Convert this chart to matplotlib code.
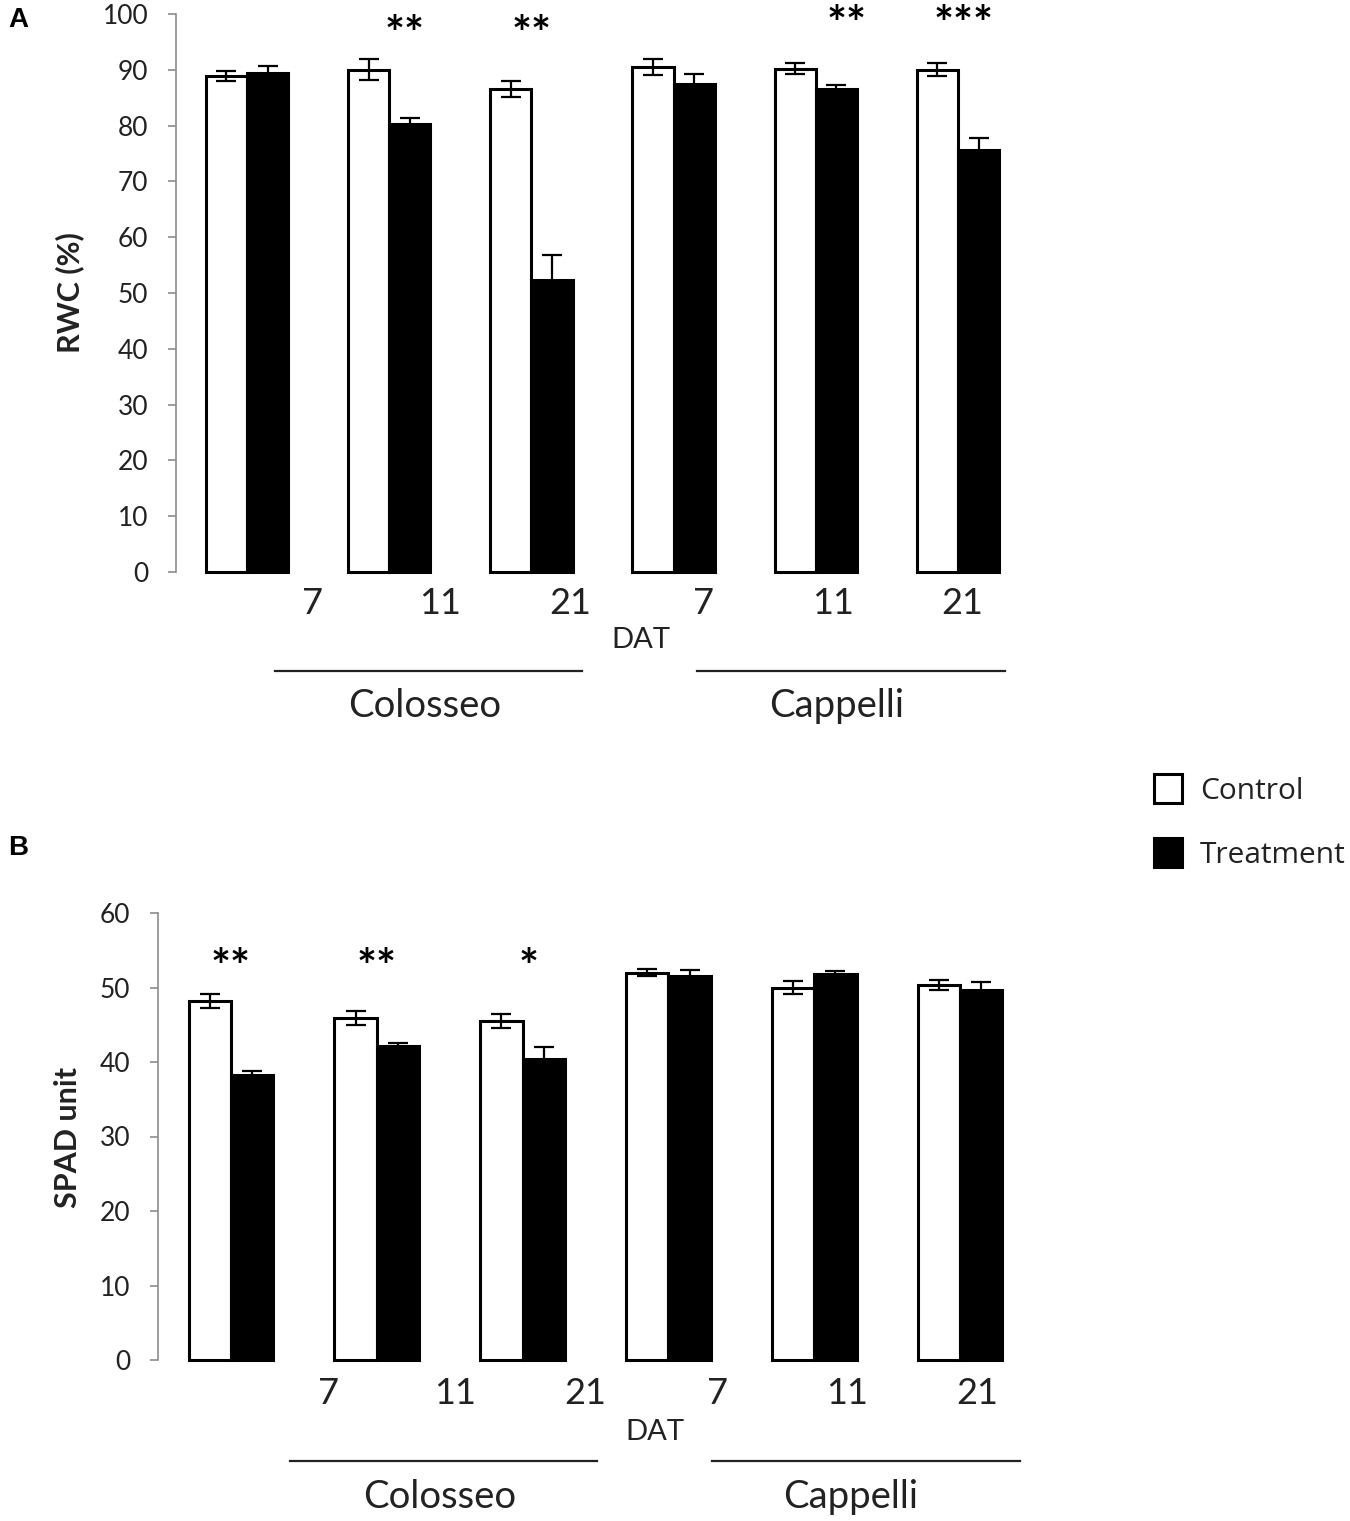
import matplotlib
matplotlib.use("Agg")
import matplotlib.pyplot as plt
import numpy as np
from matplotlib.patches import Patch
from matplotlib.lines import Line2D

# data
groups = ["Colosseo 7", "Colosseo 11", "Colosseo 21", "Cappelli 7", "Cappelli 11", "Cappelli 21"]
day_labels = ["7", "11", "21", "7", "11", "21"]
cultivars = ["Colosseo", "Cappelli"]

rwc_control = [88.9, 90.0, 86.6, 90.5, 90.2, 90.0]
rwc_control_err = [0.9, 1.9, 1.4, 1.4, 1.0, 1.2]
rwc_treat = [89.5, 80.3, 52.4, 87.4, 86.6, 75.6]
rwc_treat_err = [1.1, 1.1, 4.4, 1.9, 0.6, 2.2]
rwc_sig = ["", "**", "**", "", "**", "***"]

spad_control = [48.2, 45.9, 45.5, 52.0, 50.0, 50.3]
spad_control_err = [0.9, 0.95, 1.0, 0.5, 0.9, 0.7]
spad_treat = [38.2, 42.1, 40.4, 51.6, 51.8, 49.7]
spad_treat_err = [0.6, 0.45, 1.65, 0.8, 0.4, 1.1]
spad_sig = ["**", "**", "*", "", "", ""]

W, H = 1350, 1521
fig = plt.figure(figsize=(W / 100, H / 100), dpi=100)


def fx(px):
    return px / W


def fy(py):
    return 1 - py / H


FONT = "Lato"
TICKCOL = "#222222"


def panel(rect, control, cerr, treat, terr, ymax, sig, sig_y, sig_dx):
    ax = fig.add_axes(rect)
    x = np.arange(len(control))
    w = 0.29
    ax.bar(x - w / 2, control, w, color="white", edgecolor="black", linewidth=2.2, clip_on=False, zorder=2)
    ax.bar(x + w / 2, treat, w, color="black", edgecolor="black", linewidth=2.2, clip_on=False, zorder=2)
    ax.errorbar(x - w / 2, control, yerr=cerr, fmt="none", ecolor="black",
                elinewidth=1.6, capsize=7, capthick=1.6, zorder=3)
    ax.errorbar(x + w / 2, treat, yerr=terr, fmt="none", ecolor="black",
                elinewidth=1.6, capsize=7, capthick=1.6, zorder=3)
    for i, s in enumerate(sig):
        if s:
            ax.text(x[i] + sig_dx[i], sig_y[i], s, ha="center", va="center",
                    fontsize=34, family=FONT, fontweight="bold", clip_on=False)
    ax.set_xlim(-0.5, 5.5)
    ax.set_ylim(0, ymax)
    ax.set_xticks([])
    for sp in ["top", "right", "bottom"]:
        ax.spines[sp].set_visible(False)
    ax.spines["left"].set_color("#8c8c8c")
    ax.spines["left"].set_linewidth(1.2)
    ax.tick_params(axis="y", direction="out", length=6, width=1.2, color="#8c8c8c",
                   labelsize=19, labelcolor=TICKCOL, pad=14)
    ax.patch.set_alpha(0)
    return ax


# Panel A
axA = panel([fx(176), fy(572), fx(1029 - 176), (572 - 14) / H],
            rwc_control, rwc_control_err, rwc_treat, rwc_treat_err, 100,
            rwc_sig, [0, 96.1, 96.1, 0, 97.9, 97.9], [0, 0.11, 0, 0, 0.22, 0.04])
axA.set_yticks(np.arange(0, 101, 10))

# Panel B
axB = panel([fx(158), fy(1360), fx(1033 - 158), (1360 - 913) / H],
            spad_control, spad_control_err, spad_treat, spad_treat_err, 60,
            spad_sig, [52.5, 52.5, 52.5, 0, 0, 0], [0, 0, 0.04, 0, 0, 0])
axB.set_yticks(np.arange(0, 61, 10))
for ax in (axA, axB):
    for t in ax.get_yticklabels():
        t.set_family(FONT)


def under_labels(xs, y_day, dat_xy, line_y, lines, names_xy):
    for lab, px in zip(day_labels, xs):
        fig.text(fx(px), fy(y_day), lab, ha="center", va="center", fontsize=26, family=FONT, color=TICKCOL)
    fig.text(fx(dat_xy[0]), fy(dat_xy[1]), "DAT", ha="center", va="center", fontsize=21, family=FONT, color=TICKCOL)
    for (x0, x1) in lines:
        fig.add_artist(Line2D([fx(x0), fx(x1)], [fy(line_y), fy(line_y)], color="#222222", lw=1.6))
    for name, (px, py) in zip(cultivars, names_xy):
        fig.text(fx(px), fy(py), name, ha="center", va="center", fontsize=27.5, family=FONT, color=TICKCOL)


under_labels([313, 440, 570, 704, 833, 962], 603, (641, 640), 671,
             [(275, 582), (697, 1005)], [(425, 706), (837, 706)])
under_labels([328, 455, 585, 718, 847, 977], 1393, (655, 1432), 1461,
             [(290, 597), (712, 1020)], [(440, 1497), (851, 1497)])

fig.text(fx(70), fy(293), "RWC (%)", rotation=90, ha="center", va="center",
         fontsize=22, family=FONT, fontweight="bold", color=TICKCOL)
fig.text(fx(68), fy(1137), "SPAD unit", rotation=90, ha="center", va="center",
         fontsize=22, family=FONT, fontweight="bold", color=TICKCOL)

fig.text(fx(18), fy(20), "A", ha="center", va="center", fontsize=20,
         family="Liberation Sans", fontweight="bold")
fig.text(fx(18), fy(848), "B", ha="center", va="center", fontsize=20,
         family="Liberation Sans", fontweight="bold")

handles = [Patch(facecolor="white", edgecolor="black", linewidth=2.2),
           Patch(facecolor="black", edgecolor="black", linewidth=2.2)]
fig.legend(handles, ["Control", "Treatment"], loc="center left",
           bbox_to_anchor=(fx(1139), fy(822)), frameon=False, borderpad=0,
           handlelength=0.95, handleheight=1.1, handletextpad=0.6, labelspacing=1.1,
           prop={"family": "Open Sans", "size": 21.5}, labelcolor=TICKCOL)

fig.savefig("out.png", dpi=100)
